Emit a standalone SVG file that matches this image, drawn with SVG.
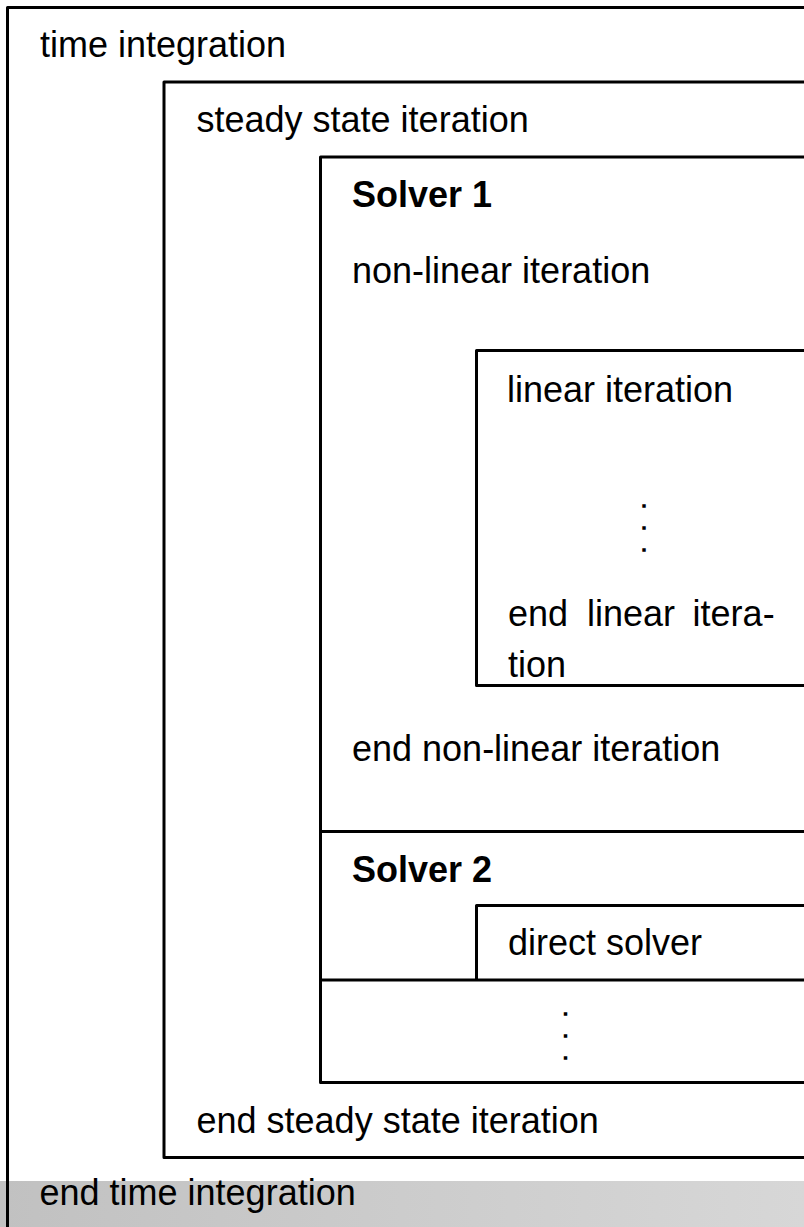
<svg xmlns="http://www.w3.org/2000/svg" width="804" height="1227" viewBox="0 0 804 1227">
<defs>
<linearGradient id="band" x1="0" y1="0" x2="1" y2="0">
<stop offset="0" stop-color="#c1c1c1"/>
<stop offset="1" stop-color="#d7d7d7"/>
</linearGradient>
</defs>
<style>
.box{fill:none;stroke:#000;stroke-width:3;stroke-linejoin:round}
.t{font-family:"Liberation Sans",Arial,sans-serif;font-size:36px;fill:#000}
.b{font-weight:bold}
.dot{font-family:"Liberation Sans",Arial,sans-serif;font-size:18px;fill:#000;stroke:#000;stroke-width:1.7;text-anchor:middle}
</style>
<rect width="804" height="1227" fill="#fff"/>
<g id="time-integration">
<path class="box" d="M810,7.5 H7.5 V1230"/>
<text class="t" x="40" y="57">time integration</text>
</g>
<g id="steady-state">
<path class="box" d="M810,82 H164 V1157.5 H810"/>
<text class="t" x="196.5" y="132">steady state iteration</text>
<text class="t" x="196.5" y="1133">end steady state iteration</text>
</g>
<g id="solver1">
<path class="box" d="M810,157 H320.5 V1082.5 H810"/>
<text class="t b" x="352" y="207">Solver 1</text>
<text class="t" x="352" y="283">non-linear iteration</text>
<text class="t" x="352" y="761">end non-linear iteration</text>
</g>
<g id="linear-iteration">
<path class="box" d="M810,350.5 H476.5 V685.5 H810"/>
<text class="t" x="507" y="402">linear iteration</text>
<text class="dot" x="644" y="506.8">.</text>
<text class="dot" x="644" y="528.8">.</text>
<text class="dot" x="644" y="550.8">.</text>
<text class="t" y="626"><tspan x="508">end</tspan><tspan x="587">linear</tspan><tspan x="692.6">itera-</tspan></text>
<text class="t" x="508" y="677">tion</text>
</g>
<g id="solver2">
<path class="box" d="M320.5,831.5 H810"/>
<text class="t b" x="352" y="882">Solver 2</text>
</g>
<g id="direct-solver">
<path class="box" d="M476.5,980 V905.5 H810"/>
<text class="t" x="508" y="955">direct solver</text>
</g>
<g id="more-solvers">
<path class="box" d="M320.5,980 H810"/>
<text class="dot" x="565.5" y="1014.5">.</text>
<text class="dot" x="565.5" y="1036.5">.</text>
<text class="dot" x="565.5" y="1058.5">.</text>
</g>
<g id="end-time-integration">
<rect x="0" y="1181" width="804" height="46" fill="url(#band)"/>
<path class="box" d="M7.5,1181 V1230"/>
<text class="t" x="39.5" y="1205">end time integration</text>
</g>
</svg>
